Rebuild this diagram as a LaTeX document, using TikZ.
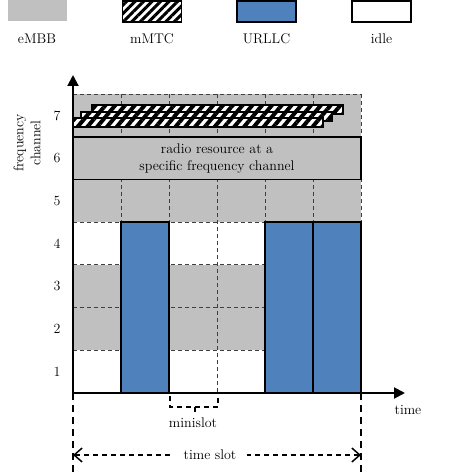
\documentclass[tikz,border=0pt]{standalone}
\usetikzlibrary{patterns.meta,arrows.meta}
\definecolor{embb}{RGB}{192,192,192}
\definecolor{urllc}{RGB}{79,129,189}
\begin{document}
\begin{tikzpicture}[x=1pt,y=-1pt,
  every node/.style={font=\fontsize{14}{17}\selectfont},
  gridline/.style={line width=0.9pt, black!75, dash pattern=on 4pt off 3pt},
  hatch/.style={preaction={fill=white}, pattern={Lines[angle=45,distance=6pt,line width=3pt]}, draw=black, line width=1.5pt},
  barhatch/.style={preaction={fill=white}, pattern={Lines[angle=50,distance=7.5pt,line width=4pt]}, draw=black, line width=1.5pt},
  urllcbox/.style={fill=urllc, draw=black, line width=1.5pt},
  embbbox/.style={fill=embb},
  idlebox/.style={fill=white, draw=black, line width=1.5pt},
  legbox/.style={minimum width=59pt, minimum height=21pt, inner sep=0pt},
  axis/.style={line width=2pt, -{Triangle[length=11pt,width=11pt]}},
  longdash/.style={line width=2pt, dash pattern=on 7pt off 5pt},
  dashbrace/.style={line width=1.5pt, dash pattern=on 5pt off 4pt},
  tsarrow/.style={line width=1.5pt, dash pattern=on 5pt off 4pt, {Straight Barb[length=8pt,width=14pt]}-{Straight Barb[length=8pt,width=14pt]}}
]
\useasboundingbox (0,0) rectangle (452,476);

% legend
\node[legbox, embbbox] (legA) at (37,11) {};
\node[legbox, hatch] (legB) at (152,11.5) {};
\node[legbox, urllcbox] (legC) at (266.5,11.5) {};
\node[legbox, idlebox] (legD) at (381.5,11.5) {};
\node (legAt) at (37,39) {eMBB};
\node (legBt) at (152,39) {mMTC};
\node (legCt) at (266.5,39) {URLLC};
\node (legDt) at (381.5,39) {idle};

% background cells
\fill[embb] (73,94.1) rectangle (361,222.2);
\fill[embb] (73,264.9) rectangle (361,350.3);

% dashed grid
\draw[gridline] (73,94.1) -- (361,94.1);
\draw[gridline] (361,94.1) -- (361,222.2);
\foreach \yy in {222.2,264.9,307.6,350.3} \draw[gridline] (73,\yy) -- (265,\yy);
\foreach \xx in {121,169,217,265,313} \draw[gridline] (\xx,94.1) -- (\xx,393);

% URLLC blocks
\draw[urllcbox] (121,222.2) rectangle (169,393);
\draw[urllcbox] (265,222.2) rectangle (313,393);
\draw[urllcbox] (313,222.2) rectangle (361,393);

% radio resource row
\node[draw=black, line width=1.5pt, fill=embb, minimum width=288pt, minimum height=42.7pt, inner sep=0pt, align=center] (res) at (217,158.15) {radio resource at a\\specific frequency channel};

% mMTC bars
\draw[barhatch] (92,105) rectangle (343,114);
\draw[barhatch] (81,112) rectangle (332,121);
\draw[barhatch] (73,118) rectangle (323,127);

% axes
\coordinate (O) at (73,393);
\coordinate (ytop) at (73,75);
\coordinate (xend) at (405,393);
\draw[axis] (O) -- (ytop);
\draw[axis] (O) -- (xend);

% row labels
\foreach \n/\yy in {1/371.6,2/329,3/286.3,4/243.6,5/200.9,6/158.2,7/115.5}
  \node (r\n) at (57,\yy) {\n};
\node[rotate=90, align=center] (ylab) at (27,143) {frequency\\channel};
\node (tlab) at (408,410) {time};

% minislot brace
\coordinate (ms1) at (170,396);
\coordinate (ms2) at (218,396);
\coordinate (msm) at (195,407);
\coordinate (mstip) at (195,413);
\draw[dashbrace] (ms1) |- (msm) -| (ms2);
\draw[dashbrace] (msm) -- (mstip);
\node (mslab) at (193,423) {minislot};

% time slot
\coordinate (vl1) at (73,393);
\coordinate (vl2) at (73,476);
\coordinate (vr1) at (361,393);
\coordinate (vr2) at (361,476);
\draw[longdash] (vl1) -- (vl2);
\draw[longdash] (vr1) -- (vr2);
\coordinate (tsL) at (73,455);
\coordinate (tsR) at (361,455);
\draw[tsarrow] (tsL) -- (tsR);
\node[fill=white, inner xsep=11pt, inner ysep=2pt] (tslab) at (210,455) {time slot};
\end{tikzpicture}
\end{document}
